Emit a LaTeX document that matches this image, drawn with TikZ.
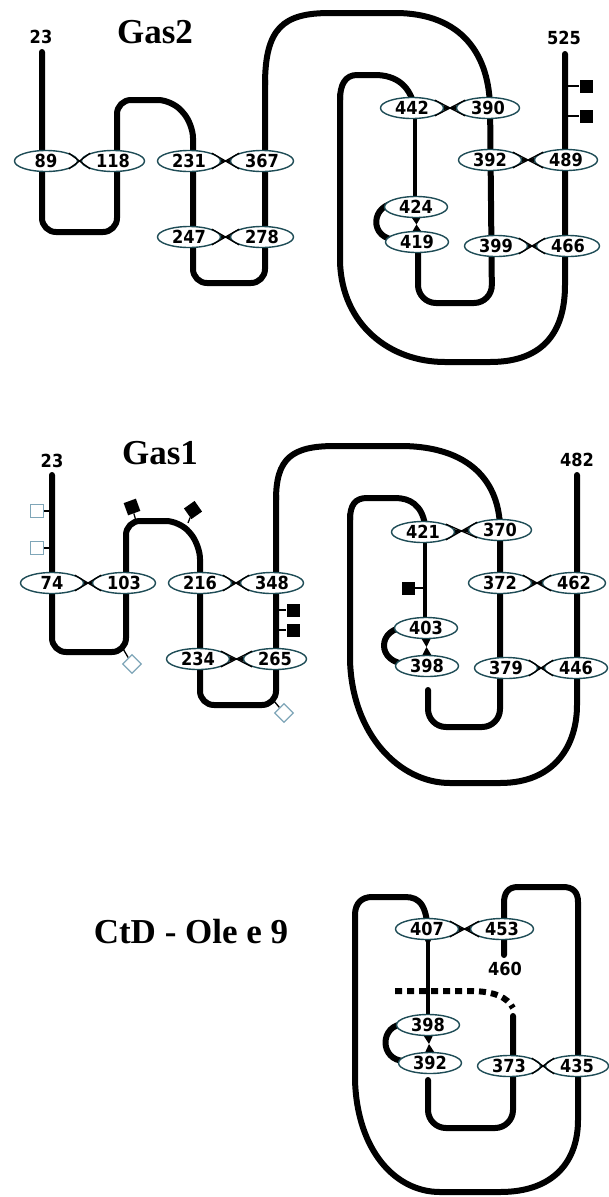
\documentclass[tikz,border=0pt]{standalone}
\usepackage{fontspec}
\setmainfont{Liberation Serif}
\newfontfamily\numfont[FakeStretch=0.9]{DejaVu Sans}
\usetikzlibrary{shapes.geometric,calc}
\pgfdeclarelayer{back}
\pgfsetlayers{back,main}
\definecolor{rimcol}{HTML}{1E4C56}
\definecolor{opencol}{HTML}{7FA6B8}
\tikzset{
  strand/.style={line width=6pt, line cap=round, line join=round, rounded corners=14pt},
  loopline/.style={line width=6pt, line cap=round, line join=round},
  res/.style={ellipse, draw=rimcol, line width=1.4pt, fill=white, minimum width=63pt,
    minimum height=21pt, inner sep=0pt, font=\numfont\bfseries\fontsize{18}{18}\selectfont},
  term/.style={inner sep=0pt, font=\numfont\bfseries\fontsize{18}{18}\selectfont},
  heading/.style={inner sep=0pt, anchor=base, font=\bfseries\fontsize{35}{35}\selectfont},
  stem/.style={line width=1.3pt},
  fullsq/.style={rectangle, fill=black, minimum size=13pt, inner sep=0pt},
  opensq/.style={rectangle, draw=opencol, line width=1.3pt, fill=white, minimum size=13pt, inner sep=0pt},
  bondline/.style={line width=1.3pt},
  gap/.style={line width=6pt, dash pattern=on 7pt off 5pt},
}
% bond between two residues placed side by side
\newcommand\hbond[2]{%
  \begin{pgfonlayer}{back}
    \fill ($(#1.east)+(-5,-4)$) -- ($(#1.east)+(-5,4)$) -- ($(#2.west)+(5,-4)$) -- ($(#2.west)+(5,4)$) -- cycle;
  \end{pgfonlayer}
  \draw[bondline] (#1.north east) -- (#2.south west) (#1.south east) -- (#2.north west);
}
% bond between two residues placed one above the other
\newcommand\vbond[2]{%
  \begin{pgfonlayer}{back}
    \fill ($(#1.south)+(-6,-3)$) -- ($(#1.south)+(6,-3)$) -- ($(#2.north)+(-6,3)$) -- ($(#2.north)+(6,3)$) -- cycle;
  \end{pgfonlayer}
}
\begin{document}
\begin{tikzpicture}[x=1pt,y=-1pt]
\useasboundingbox (0,0) rectangle (609,1197);

%% ================= Gas2 =================
\node[heading] (h2) at (155,43) {Gas2};
\node[term] (g2n) at (41,37) {23};
\node[term] (g2c) at (564,38) {525};
\node[res] (a89)  at (46,161)  {89};
\node[res] (a118) at (113,161) {118};
\node[res] (a231) at (189,161) {231};
\node[res] (a367) at (262,161) {367};
\node[res] (a247) at (189,237) {247};
\node[res] (a278) at (262,237) {278};
\node[res] (a442) at (412,108) {442};
\node[res] (a390) at (488,108) {390};
\node[res] (a392) at (490,160) {392};
\node[res] (a489) at (566,160) {489};
\node[res] (a424) at (416,207) {424};
\node[res] (a419) at (417,242) {419};
\node[res] (a399) at (496,246) {399};
\node[res] (a466) at (568,246) {466};
\node[fullsq] (ag1) at (586,86) {};
\node[fullsq] (ag2) at (586,116) {};

\begin{pgfonlayer}{back}
  \draw[strand] (42,52) -- (42,232) -- (117,232) -- (117,100) -- (172,100) -- (193,124)
    -- (193,283) -- (265,283) -- (265,80);
  \draw[loopline] (265,85) .. controls (265,28) and (283,13) .. (330,13) -- (395,13)
    .. controls (462,13) and (490,55) .. (490,110);
  \draw[strand, rounded corners=18pt] (490,100) -- (492,303) -- (418,303) -- (418,250);
  \draw[loopline] (398,240) .. controls (368,240) and (370,203) .. (398,203);
  \draw[loopline, line width=4.5pt] (415,200) -- (415,110);
  \draw[loopline] (415,112) .. controls (412,85) and (395,75) .. (375,75) -- (357,75)
    .. controls (345,75) and (340,85) .. (340,100);
  \draw[loopline] (340,95) -- (340,262) .. controls (342,325) and (390,362) .. (445,362)
    -- (490,362) .. controls (545,362) and (565,330) .. (565,285) -- (565,54);
  \draw[stem] (565,86) -- (ag1);
  \draw[stem] (565,116) -- (ag2);
\end{pgfonlayer}
\hbond{a89}{a118} \hbond{a231}{a367} \hbond{a247}{a278}
\hbond{a442}{a390} \hbond{a392}{a489} \hbond{a399}{a466}
\vbond{a424}{a419}

%% ================= Gas1 =================
\node[heading] (h1) at (160,464) {Gas1};
\node[term] (bn) at (52,461) {23};
\node[term] (bc) at (577,460) {482};
\node[res] (b74)  at (52,583)  {74};
\node[res] (b103) at (124,583) {103};
\node[res] (b216) at (200,583) {216};
\node[res] (b348) at (272,583) {348};
\node[res] (b234) at (198,659) {234};
\node[res] (b265) at (275,659) {265};
\node[res] (b421) at (423,532) {421};
\node[res] (b370) at (500,530) {370};
\node[res] (b372) at (500,583) {372};
\node[res] (b462) at (574,583) {462};
\node[res] (b403) at (426,628) {403};
\node[res] (b398) at (427,666) {398};
\node[res] (b379) at (506,668) {379};
\node[res] (b446) at (576,668) {446};
\node[opensq] (bo1) at (37,511) {};
\node[opensq] (bo2) at (37,548) {};
\node[fullsq, rotate=20] (bf1) at (132,507) {};
\node[fullsq, rotate=35] (bf2) at (193,510) {};
\node[fullsq] (bf3) at (293,610) {};
\node[fullsq] (bf4) at (293,630) {};
\node[opensq, rotate=45] (bo3) at (132,664) {};
\node[opensq, rotate=45] (bo4) at (284,713) {};
\node[fullsq] (bf5) at (408,588) {};

\begin{pgfonlayer}{back}
  \draw[strand] (52,475) -- (52,652) -- (126,652) -- (126,521) -- (180,521) -- (200,545)
    -- (200,705) -- (276,705) -- (276,495);
  \draw[loopline] (276,500) .. controls (276,458) and (292,446) .. (335,446) -- (400,446)
    .. controls (470,446) and (500,482) .. (500,530);
  \draw[strand, rounded corners=18pt] (500,520) -- (500,727) -- (428,727) -- (428,690);
  \draw[loopline] (408,664) .. controls (376,664) and (376,627) .. (408,627);
  \draw[loopline, line width=4.5pt] (425,625) -- (425,530);
  \draw[loopline] (425,525) .. controls (422,505) and (410,498) .. (395,498) -- (367,498)
    .. controls (355,498) and (350,505) .. (350,520);
  \draw[loopline] (350,515) -- (350,660) .. controls (352,735) and (400,783) .. (450,783)
    -- (500,783) .. controls (555,783) and (577,745) .. (577,705) -- (577,475);
  \draw[stem] (52,511) -- (bo1);
  \draw[stem] (52,548) -- (bo2);
  \draw[stem] (136,521) -- (bf1);
  \draw[stem] (188,523) -- (bf2);
  \draw[stem] (276,610) -- (bf3);
  \draw[stem] (276,630) -- (bf4);
  \draw[stem] (122,647) -- (bo3);
  \draw[stem] (274,701) -- (bo4);
  \draw[stem] (425,588) -- (bf5);
\end{pgfonlayer}
\hbond{b74}{b103} \hbond{b216}{b348} \hbond{b234}{b265}
\hbond{b421}{b370} \hbond{b372}{b462} \hbond{b379}{b446}
\vbond{b403}{b398}

%% ================= CtD - Ole e 9 =================
\node[heading] (h3) at (191,943) {CtD - Ole e 9};
\node[term] (cc) at (505,969) {460};
\node[res] (c407) at (427,929)  {407};
\node[res] (c453) at (502,929)  {453};
\node[res] (c398) at (428,1025) {398};
\node[res] (c392) at (430,1063) {392};
\node[res] (c373) at (509,1066) {373};
\node[res] (c435) at (577,1066) {435};

\begin{pgfonlayer}{back}
  \draw[gap] (395,991) -- (470,991) .. controls (495,991) and (508,998) .. (513,1008);
  \draw[strand, rounded corners=18pt] (513,1016) -- (513,1128) -- (428,1128) -- (428,1080);
  \draw[loopline] (405,1061) .. controls (379,1061) and (379,1024) .. (405,1024);
  \draw[loopline, line width=4.5pt] (428,1015) -- (428,935);
  \draw[loopline] (428,940) .. controls (428,905) and (420,897) .. (405,897) -- (372,897)
    .. controls (362,897) and (355,903) .. (355,915) -- (355,1080)
    .. controls (357,1150) and (395,1192) .. (440,1192) -- (500,1192)
    .. controls (555,1192) and (578,1160) .. (578,1120) -- (578,902)
    .. controls (578,892) and (573,887) .. (563,887) -- (518,887)
    .. controls (508,887) and (504,893) .. (504,903) -- (504,955);
\end{pgfonlayer}
\hbond{c407}{c453} \hbond{c373}{c435}
\vbond{c398}{c392}
\end{tikzpicture}
\end{document}
